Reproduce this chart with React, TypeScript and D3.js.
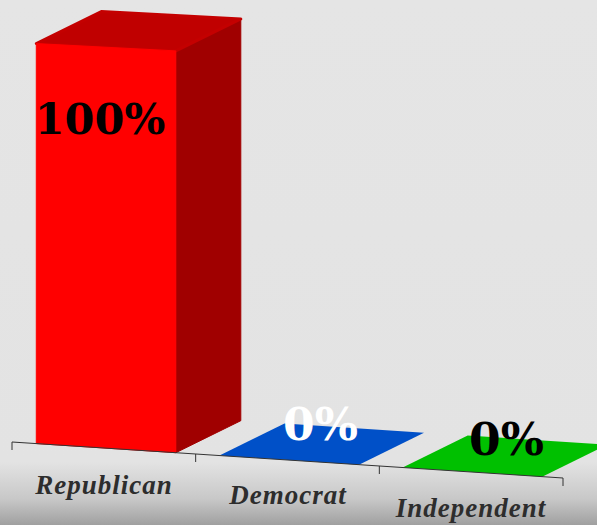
import React from "react";
import * as d3 from "d3";

const categories = ["Republican", "Democrat", "Independent"];
const values = [100, 0, 0];
const valueLabels = ["100%", "0%", "0%"];
const faceColors = ["#ff0000", "#0050c8", "#00c000"];
const topColors = ["#c00000", "#0050c8", "#00c000"];
const sideColors = ["#a00000", "#003c96", "#009000"];
const labelColors = ["#000000", "#ffffff", "#000000"];
const tickValues = [0, 1, 2, 3];

const W = 597, H = 525;
const xAxis = d3.scaleLinear().domain([0, 3]).range([12, 563]);
const yAxis = d3.scaleLinear().domain([12, 563]).range([442, 478]);
const heightScale = d3.scaleLinear().domain([0, 100]).range([0, 400]);
const band = d3.scaleBand<number>().domain([0, 1, 2]).range([14, 564.5]).paddingInner(0.2385).paddingOuter(0.1217);
const depth = { dx: 65, dy: -32 };

// project an axis-plane x, a height and a depth fraction to the page
const project = (x: number, h: number, d: number): [number, number] => {
  const flatten = 1 - (h / 400) * 0.2;
  const base = yAxis(36) + (yAxis(x) - yAxis(36)) * flatten;
  return [x + d * depth.dx, base - h + d * depth.dy];
};
const path = (pts: [number, number][]) => (d3.line()(pts) as string) + "Z";

export default function App() {
  return (
    <svg width={W} height={H} style={{ position: "absolute", left: 0, top: 0 }}>
      <defs>
        <linearGradient id="bg" x1="0" y1="0" x2="0" y2="1">
          <stop offset="0" stopColor="#e5e5e5" />
          <stop offset="0.88" stopColor="#e3e3e3" />
          <stop offset="0.95" stopColor="#c8c8c8" />
          <stop offset="1" stopColor="#a0a0a0" />
        </linearGradient>
      </defs>
      <rect width={W} height={H} fill="url(#bg)" />
      {categories.map((c, i) => {
        const x0 = band(i) as number;
        const x1 = x0 + band.bandwidth();
        const h = heightScale(values[i]);
        const front: [number, number][] = [project(x0, 0, 0), project(x1, 0, 0), project(x1, h, 0), project(x0, h, 0)];
        const top: [number, number][] = [project(x0, h, 0), project(x1, h, 0), project(x1, h, 1), project(x0, h, 1)];
        const side: [number, number][] = [project(x1, 0, 0), project(x1, 0, 1), project(x1, h, 1), project(x1, h, 0)];
        return (
          <g key={c}>
            {h > 0 && <path d={path(side)} fill={sideColors[i]} stroke={sideColors[i]} strokeWidth={1} strokeLinejoin="round" />}
            <path d={path(top)} fill={topColors[i]} stroke={h > 0 ? "#c40000" : "none"} strokeWidth={h > 0 ? 3 : 0} strokeLinejoin="round" />
            {h > 0 && <path d={path(front)} fill={faceColors[i]} stroke={faceColors[i]} strokeWidth={1} strokeLinejoin="round" />}
          </g>
        );
      })}
      <line x1={xAxis(0)} y1={yAxis(xAxis(0))} x2={xAxis(3)} y2={yAxis(xAxis(3))} stroke="#333" strokeWidth={1} />
      {tickValues.map((t) => (
        <line key={t} x1={xAxis(t)} y1={yAxis(xAxis(t))} x2={xAxis(t)} y2={yAxis(xAxis(t)) + 8} stroke="#333" strokeWidth={1} />
      ))}
      {categories.map((c, i) => (
        <text key={c} x={[104, 288, 471][i]} y={[494, 504, 517][i]} textAnchor="middle"
          fontFamily="'Liberation Serif'" fontWeight="bold" fontStyle="italic" fontSize={27} letterSpacing={1} fill="#2d2d2d">{c}</text>
      ))}
      {valueLabels.map((l, i) => (
        <text key={i} x={[100, 320.5, 506.5][i]} y={[134, 440, 455][i]} textAnchor="middle"
          fontFamily="'DejaVu Serif'" fontWeight="bold" fontSize={[43, 45.5, 45.5][i]} fill={labelColors[i]}>{l}</text>
      ))}
    </svg>
  );
}
